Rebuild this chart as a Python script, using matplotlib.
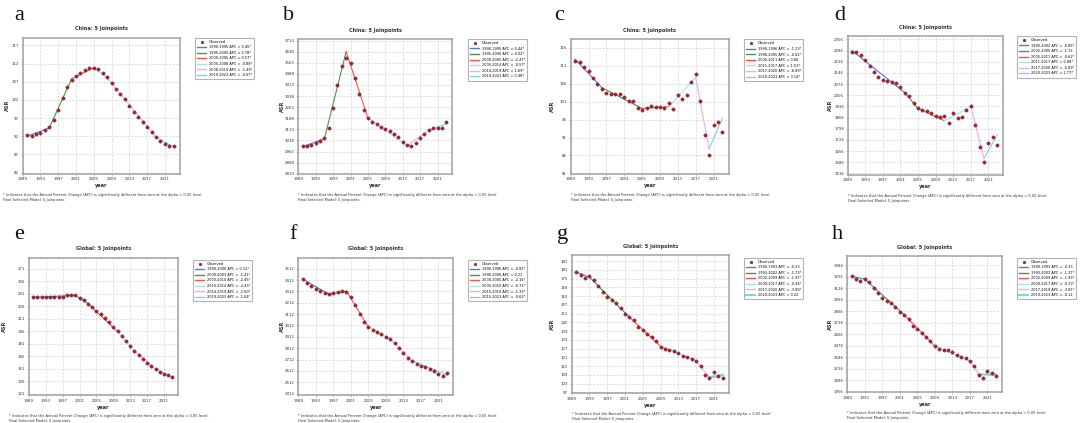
import matplotlib
matplotlib.use("Agg")
import matplotlib.pyplot as plt
from matplotlib.lines import Line2D

W, H = 1080, 423

years = list(range(1990, 2024))
xticks = [1989, 1993, 1997, 2001, 2005, 2009, 2013, 2017, 2021]

# observed rates, one list per panel
obs_a = [92.3, 92.1, 92.5, 93.0, 93.6, 94.6, 96.4, 99.2, 102.5, 105.5, 107.5, 108.5, 109.4, 110.2, 110.7, 110.8, 110.4,
         109.4, 108.2, 106.6, 105.1, 103.7, 102.2, 100.4, 98.7, 97.2, 95.8, 94.5, 93.1, 91.8, 90.8, 89.8, 89.2, 89.4]
obs_b = [2998, 3001, 3010, 3021, 3035, 3055, 3123, 3258, 3412, 3541, 3598, 3559, 3462, 3349, 3247, 3191, 3166,
         3146, 3127, 3116, 3103, 3084, 3060, 3026, 3005, 3003, 3023, 3053, 3082, 3107, 3123, 3121, 3123, 3161]
obs_c = [112.4, 112.1, 110.8, 109.6, 107.7, 105.9, 104.5, 103.5, 103.1, 103.1, 103.1, 102.2, 101.3, 101.3, 99.3, 98.6,
         99.1, 99.9, 99.6, 99.4, 99.3, 100.5, 99.0, 102.8, 101.7, 102.8, 106.5, 108.6, 101.3, 91.8, 86.1, 94.4, 95.4, 92.6]
obs_d = [2279, 2279, 2256, 2226, 2189, 2149, 2122, 2101, 2093, 2086, 2080, 2059, 2022, 2003, 1955, 1923, 1913,
         1909, 1892, 1877, 1867, 1875, 1829, 1892, 1861, 1869, 1913, 1938, 1819, 1683, 1585, 1704, 1746, 1693]
obs_e = [236.6, 236.6, 236.6, 237.0, 237.0, 236.6, 236.6, 237.0, 239.0, 239.4, 239.0, 236.2, 233.0, 228.6, 224.6,
         220.6, 217.0, 211.8, 207.0, 201.4, 196.2, 190.2, 184.6, 178.2, 172.6, 167.4, 163.0, 158.2, 153.8, 150.6,
         147.4, 145.0, 143.0, 140.6]
obs_f = [3424, 3389, 3360, 3333, 3313, 3295, 3289, 3298, 3310, 3319, 3310, 3260, 3193, 3116, 3043, 2999, 2976,
         2955, 2935, 2914, 2894, 2861, 2818, 2771, 2727, 2697, 2677, 2659, 2645, 2627, 2610, 2589, 2563, 2598]
obs_g = [179.7, 177.8, 175.1, 176.7, 173.9, 169.6, 165.9, 162.7, 160.0, 158.6, 154.5, 151.0, 149.0, 146.5, 141.9,
         139.6, 137.1, 134.8, 132.3, 128.4, 126.8, 125.9, 125.4, 124.0, 121.7, 121.3, 120.1, 118.5, 114.9, 109.1,
         106.6, 111.0, 108.2, 106.8]
obs_h = [3265, 3235, 3205, 3235, 3197, 3130, 3077, 3020, 2979, 2960, 2911, 2862, 2828, 2783, 2704, 2662, 2617,
         2575, 2534, 2474, 2444, 2432, 2432, 2406, 2368, 2349, 2338, 2304, 2247, 2153, 2112, 2195, 2165, 2134]

# joinpoint years and modelled values at them
jp_a = [1990, 1995, 2000, 2005, 2008, 2019, 2023]
fit_a = [92.0, 94.3, 107.8, 110.9, 108.0, 91.8, 89.0]
jp_b = [1990, 1995, 2000, 2005, 2014, 2019, 2023]
fit_b = [2995, 3050, 3638, 3190, 3002, 3107, 3150]
jp_c = [1990, 1996, 2005, 2011, 2017, 2020, 2023]
fit_c = [112.8, 104.9, 99.1, 99.6, 107.8, 87.8, 96.4]
jp_d = [1990, 2002, 2005, 2011, 2017, 2020, 2023]
fit_d = [2285, 2022, 1923, 1846, 1934, 1610, 1756]
jp_e = [1990, 2000, 2003, 2010, 2014, 2019, 2023]
fit_e = [236.5, 239.0, 229.0, 195.5, 172.5, 150.5, 140.5]
jp_f = [1990, 1996, 2000, 2005, 2010, 2015, 2023]
fit_f = [3420, 3288, 3314, 3000, 2893, 2700, 2575]
jp_g = [1990, 1993, 2002, 2009, 2017, 2020, 2023]
fit_g = [179.5, 176.0, 148.5, 128.6, 118.5, 107.0, 109.0]
jp_h = [1990, 1993, 2002, 2009, 2017, 2019, 2023]
fit_h = [3262, 3230, 2828, 2474, 2304, 2155, 2150]

apc_a = ["0.45*", "2.78*", "0.57*", "-0.88*", "-1.49*", "-0.67*"]
apc_b = ["0.44*", "4.02*", "-2.47*", "-0.57*", "1.69*", "0.48*"]
apc_c = ["-1.23*", "-0.62*", "0.06", "1.53*", "-6.89*", "3.14*"]
apc_d = ["-0.85*", "-1.72", "-0.62*", "0.88*", "-5.89*", "2.77*"]
apc_e = ["0.12*", "-1.41*", "-2.45*", "-2.43*", "-2.60*", "-1.64*"]
apc_f = ["-0.82*", "0.21", "-2.16*", "-0.72*", "-1.33*", "-0.62*"]
apc_g = ["-0.23", "-1.73*", "-1.97*", "-0.94*", "-3.89*", "0.22"]
apc_h = ["-0.33", "-1.37*", "-1.93*", "-0.73*", "-3.81*", "-0.12"]

# y ticks: first, step, count
yt_a = (82, 5, 8)
yt_b = (2813, 75, 13)
yt_c = (81, 5, 8)
yt_d = (1516, 70, 13)
yt_e = (121, 15, 11)
yt_f = (2412, 100, 12)
yt_g = (97, 6, 16)
yt_h = (1956, 130, 12)

seg_colors = ['#5a78d2', '#4a944a', '#ff5050', '#a8e2e2', '#eeaaee', '#80d2e2']

# layout in pixels: axes (left, top, right, bottom), ylim, legend (left, top), letter (x, baseline), ylabel x
panels = [
    ("a", "China: 5 Joinpoints", obs_a, jp_a, fit_a, apc_a, yt_a, (81.7, 119.1), (22.7, 37.7, 180, 173.7), (195, 37.7), (14, 20), 7),
    ("b", "China: 5 Joinpoints", obs_b, jp_b, fit_b, apc_b, yt_b, (2813, 3722), (298.3, 39.3, 452.3, 173.7), (468, 39), (283, 20), 282),
    ("c", "China: 5 Joinpoints", obs_c, jp_c, fit_c, apc_c, yt_c, (80.9, 118.4), (570.7, 39.3, 728.7, 173.7), (744, 39.3), (554, 20), 552),
    ("d", "China: 5 Joinpoints", obs_d, jp_d, fit_d, apc_d, yt_d, (1508, 2377), (847.7, 36, 1003.3, 174.7), (1017, 36), (834, 20), 830),
    ("e", "Global: 5 Joinpoints", obs_e, jp_e, fit_e, apc_e, yt_e, (119.4, 284.2), (29, 257.7, 178.3, 395), (193, 259.7), (14, 239), 4),
    ("f", "Global: 5 Joinpoints", obs_f, jp_f, fit_f, apc_f, yt_f, (2400, 3609), (298.3, 257.7, 453.3, 395), (468, 259.7), (289, 239), 282),
    ("g", "Global: 5 Joinpoints", obs_g, jp_g, fit_g, apc_g, yt_g, (96.5, 191), (571.7, 255.3, 729, 393), (744, 257.7), (557, 239), 552),
    ("h", "Global: 5 Joinpoints", obs_h, jp_h, fit_h, apc_h, yt_h, (1952, 3492), (847.3, 256, 1002.3, 392.3), (1017, 257.7), (832, 239), 830),
]

fig = plt.figure(figsize=(W / 100, H / 100), dpi=100)
fig.patch.set_facecolor('white')

for letter, title, obs, jp, fit, apc, yt, ylim, box, leg, lpos, ylx in panels:
    l, t, r, b = box
    ax = fig.add_axes([l / W, 1 - b / H, (r - l) / W, (b - t) / H])
    handles = [Line2D([], [], ls='none', marker='o', ms=2.0, mfc='#a3262a', mec='#7a2040', mew=0.3)]
    labels = ["Observed"]
    for i in range(len(jp) - 1):
        lw = 1.6 if (i == len(jp) - 2 and letter in "gh") else 0.8
        ax.plot([jp[i], jp[i + 1]], [fit[i], fit[i + 1]], color=seg_colors[i], lw=lw, zorder=2)
        handles.append(Line2D([], [], color=seg_colors[i], lw=1.4 if lw > 1 else 1.0))
        labels.append(f"{jp[i]}-{jp[i + 1]} APC = {apc[i]}")
    ax.plot(years, obs, ls='none', marker='o', ms=2.4, mfc='#a3262a', mec='#7a2040', mew=0.3, zorder=3)

    ax.set_xlim(1989, 2024.4)
    ax.set_ylim(*ylim)
    ax.set_xticks(xticks)
    ax.set_xticklabels([str(x) for x in xticks])
    y0, step, n = yt
    ax.set_yticks([y0 + step * k for k in range(n)])
    ax.grid(True, color='#d0d0d0', ls=(0, (3, 2)), lw=0.5)
    ax.tick_params(labelsize=2.8, length=1.2, width=0.4, colors='#999999', labelcolor='#333333', pad=1.5)
    for s in ax.spines.values():
        s.set_color('#a0a0a0')
        s.set_linewidth(1.1)

    cx = (l + r) / 2
    fig.text(cx / W, 1 - (t - 9) / H, title, ha='center', va='center', fontsize=3.6, fontweight='bold', color='#333333')
    fig.text(cx / W, 1 - (b + 12) / H, "year", ha='center', va='center', fontsize=3.6, fontweight='bold', color='#333333')
    fig.text(ylx / W, 1 - ((t + b) / 2) / H, "ASR", ha='center', va='center', rotation=90, fontsize=3.6,
             fontweight='bold', color='#333333')
    fig.text(lpos[0] / W, 1 - lpos[1] / H, letter, ha='left', va='baseline', fontsize=16,
             family='Liberation Serif', color='#111111')
    fx = l - 20 if letter in "ae" else l
    fig.text(fx / W, 1 - (b + 21) / H,
             "* Indicates that the Annual Percent Change (APC) is significantly different from zero at the alpha = 0.05 level.",
             ha='left', va='center', fontsize=2.6, color='#333333')
    fig.text(fx / W, 1 - (b + 26) / H, "Final Selected Model: 5 Joinpoints.",
             ha='left', va='center', fontsize=2.6, color='#333333')

    lg = ax.legend(handles, labels, loc='upper left', bbox_to_anchor=(leg[0] / W, 1 - leg[1] / H),
                   bbox_transform=fig.transFigure, fontsize=2.5, frameon=True, fancybox=False,
                   edgecolor='#a0a0a0', borderpad=0.6, labelspacing=0.45, handlelength=2.6,
                   handletextpad=0.7, borderaxespad=0)
    lg.get_frame().set_linewidth(0.8)

fig.savefig("out.png", dpi=100, facecolor='white')
